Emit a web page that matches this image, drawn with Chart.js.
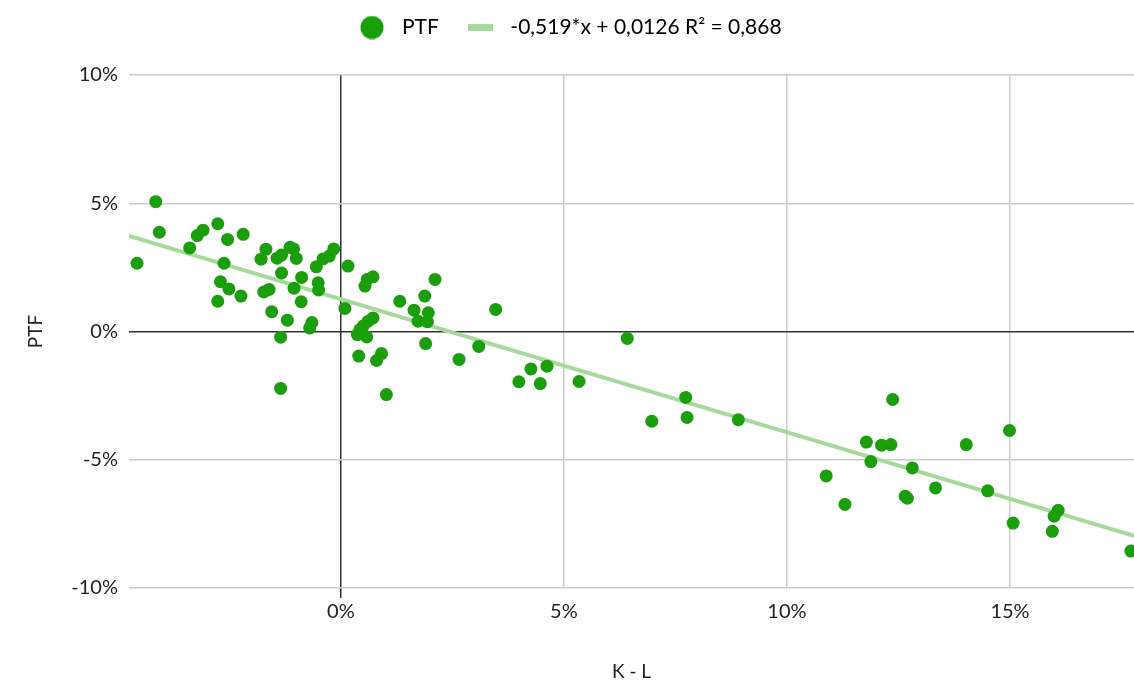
<!DOCTYPE html>
<html>
<head>
<meta charset="utf-8">
<script src="https://cdn.jsdelivr.net/npm/chart.js@4"></script>
<style>
  body { margin: 0; background: #fff; }
  #wrap { width: 1134px; height: 682px; position: relative; }
</style>
</head>
<body>
<div id="wrap"><canvas id="ptfChart"></canvas></div>
<script>
// K - L (x) and PTF (y) values, in percent
const ptfX = [-4.57, -4.15, -4.07, -3.39, -3.22, -3.09, -2.76, -2.54, -2.19, -2.62,
  -2.70, -2.51, -2.76, -2.24, -1.68, -1.79, -1.43, -1.33, -1.14, -1.06,
  -1.00, -1.33, -0.88, -1.73, -1.61, -1.05, -0.55, -0.40, -0.26, -0.16,
  -0.51, -0.50, -0.89, -1.55, -1.20, -1.35, -0.65, -0.70, -1.35, 0.16,
  0.09, 0.72, 0.59, 0.54, 0.72, 0.61, 0.50, 0.43, 0.37, 0.58,
  0.40, 0.91, 0.80, 1.02, 1.32, 1.88, 1.64, 1.96, 1.73, 1.94,
  1.90, 2.11, 2.65, 3.09, 3.47, 3.99, 4.26, 4.47, 4.62, 5.34,
  6.42, 6.97, 7.73, 7.76, 8.91, 10.88, 11.30, 11.78, 11.88, 12.12,
  12.33, 12.37, 12.65, 12.70, 12.81, 13.33, 14.02, 14.50, 14.99, 15.07,
  15.95, 15.99, 16.08, 17.71];
const ptfY = [2.66, 5.06, 3.87, 3.26, 3.74, 3.95, 4.20, 3.59, 3.79, 2.66,
  1.94, 1.66, 1.18, 1.38, 3.21, 2.82, 2.86, 2.98, 3.28, 3.22,
  2.85, 2.28, 2.11, 1.54, 1.64, 1.69, 2.52, 2.83, 2.94, 3.22,
  1.90, 1.62, 1.16, 0.77, 0.44, -0.22, 0.35, 0.14, -2.22, 2.55,
  0.90, 2.13, 2.03, 1.77, 0.53, 0.40, 0.21, 0.08, -0.12, -0.21,
  -0.96, -0.86, -1.13, -2.46, 1.18, 1.38, 0.83, 0.73, 0.40, 0.38,
  -0.47, 2.03, -1.09, -0.58, 0.86, -1.96, -1.46, -2.03, -1.35, -1.95,
  -0.27, -3.50, -2.57, -3.35, -3.44, -5.63, -6.74, -4.31, -5.07, -4.43,
  -4.41, -2.65, -6.42, -6.50, -5.32, -6.10, -4.41, -6.21, -3.86, -7.47,
  -7.79, -7.20, -6.97, -8.56];

// trend line as given in the legend: y = -0,519*x + 0,0126
const trendSlope = -0.519;
const trendIntercept = 1.26; // percent
const trendLabel = '-0,519*x + 0,0126 R² = 0,868';

const xMin = -4.75, xMax = 17.78;
const xTicks = [0, 5, 10, 15];
const yTicks = [-10, -5, 0, 5, 10];

const ptfColor = '#1a9e0b';
const trendColor = '#a6da9c';
const fontFam = 'Lato, "Open Sans", sans-serif';

const points = ptfX.map((x, i) => ({ x: x, y: ptfY[i] }));
const trendPts = [xMin, xMax].map(x => ({ x: x, y: trendSlope * x + trendIntercept }));

// legend markers
function dotImg() {
  const c = document.createElement('canvas');
  c.width = 24; c.height = 24;
  const g = c.getContext('2d');
  g.fillStyle = ptfColor;
  g.beginPath(); g.arc(12, 12, 11.5, 0, Math.PI * 2); g.fill();
  return c;
}
function barImg() {
  const c = document.createElement('canvas');
  c.width = 25; c.height = 7;
  const g = c.getContext('2d');
  g.fillStyle = trendColor;
  g.fillRect(0, 0, 25, 7);
  return c;
}
const legendMarks = [dotImg(), barImg()];

// fixed legend band, row pulled up a bit
const legendSpace = {
  id: 'legendSpace',
  beforeInit(chart) {
    const fit = chart.legend.fit;
    chart.legend.fit = function () {
      fit.bind(chart.legend)();
      this.height = 75;
    };
  },
  afterLayout(chart) {
    chart.legend.top -= 5;
  }
};

Chart.defaults.font.family = fontFam;
Chart.defaults.font.size = 20;
Chart.defaults.color = '#222';

new Chart(document.getElementById('ptfChart').getContext('2d'), {
  type: 'scatter',
  data: {
    datasets: [{
      label: 'PTF',
      data: points,
      backgroundColor: ptfColor,
      borderWidth: 0,
      pointRadius: 6.5,
      order: 1
    }, {
      type: 'line',
      label: trendLabel,
      data: trendPts,
      borderColor: trendColor,
      borderWidth: 4,
      pointRadius: 0,
      fill: false,
      order: 2
    }]
  },
  options: {
    responsive: true,
    maintainAspectRatio: false,
    animation: false,
    layout: { padding: 0, autoPadding: false },
    scales: {
      x: {
        type: 'linear',
        min: xMin,
        max: xMax,
        afterBuildTicks: scale => { scale.ticks = xTicks.map(v => ({ value: v })); },
        afterFit: scale => { scale.height = 94; scale.paddingRight = 0; scale.paddingLeft = 0; },
        ticks: { padding: 2, callback: v => v + '%' },
        grid: {
          color: c => c.tick && c.tick.value === 0 ? '#333' : '#cccccc',
          lineWidth: 1.5,
          tickLength: 10,
          tickColor: c => c.tick && c.tick.value === 0 ? '#333' : 'rgba(0,0,0,0)'
        },
        border: { display: false },
        title: { display: true, text: 'K - L', font: { size: 19 }, padding: { top: 0, bottom: -1 } }
      },
      y: {
        min: -10,
        max: 10,
        afterBuildTicks: scale => { scale.ticks = yTicks.map(v => ({ value: v })); },
        afterFit: scale => { scale.width = 129; },
        ticks: { padding: 11, callback: v => v + '%' },
        grid: {
          color: c => c.tick && c.tick.value === 0 ? '#333' : '#cccccc',
          lineWidth: 1.5,
          drawTicks: false
        },
        border: { display: false },
        title: { display: true, text: 'PTF', font: { size: 19 }, padding: { top: 24, bottom: 0 } }
      }
    },
    plugins: {
      legend: {
        position: 'top',
        labels: {
          usePointStyle: true,
          pointStyleWidth: 39,
          padding: 22,
          color: '#222',
          font: { size: 21 },
          generateLabels: chart => chart.data.datasets.map((ds, i) => ({
            text: ds.label,
            pointStyle: legendMarks[i],
            fillStyle: i === 0 ? ptfColor : trendColor,
            strokeStyle: 'rgba(0,0,0,0)',
            lineWidth: 0,
            hidden: false,
            datasetIndex: i
          }))
        }
      },
      tooltip: { enabled: false }
    }
  },
  plugins: [legendSpace]
});
</script>
</body>
</html>
